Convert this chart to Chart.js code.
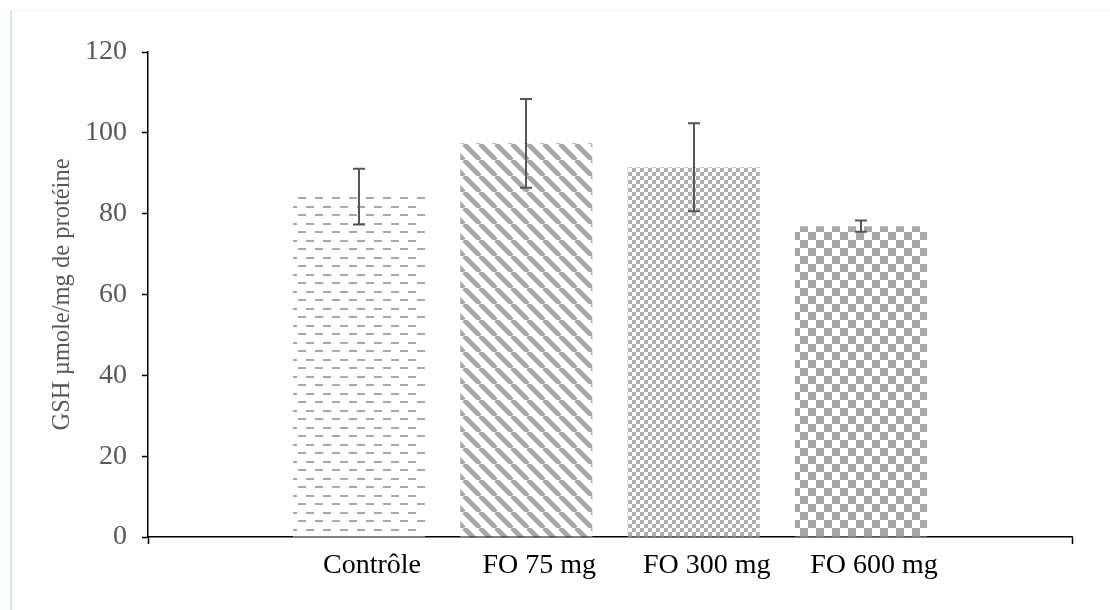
<!DOCTYPE html>
<html>
<head>
<meta charset="utf-8">
<script src="https://cdn.jsdelivr.net/npm/chart.js@4/dist/chart.umd.min.js"></script>
<style>
  html, body { margin: 0; padding: 0; background: #ffffff; overflow: hidden; }
  #wrap { position: relative; width: 1110px; height: 610px; }
  #frame { position: absolute; left: 10px; top: 10px; width: 1200px; height: 700px;
           border-left: 2px solid #d3e3f3; border-top: 1px solid #eef3f8; pointer-events: none; }
</style>
</head>
<body>
<div id="wrap">
  <canvas id="c" width="1110" height="610"></canvas>
  <div id="frame"></div>
</div>
<script>
// ---- data ----
const categories = ['Contrôle', 'FO 75 mg', 'FO 300 mg', 'FO 600 mg'];
const gshMeans = [84.2, 97.4, 91.5, 76.9];
const gshErrors = [6.9, 11.0, 10.9, 1.4];
const yTickValues = [0, 20, 40, 60, 80, 100, 120];
const yAxisTitle = 'GSH µmole/mg de protéine';

// ---- patterns ----
const GRAY = '#a8a8a8';
function makeTile(w, h, draw) {
  const c = document.createElement('canvas');
  c.width = w; c.height = h;
  const g = c.getContext('2d');
  g.fillStyle = '#ffffff';
  g.fillRect(0, 0, w, h);
  draw(g, w, h);
  return c;
}
const ctx = document.getElementById('c').getContext('2d');
const dashTile = makeTile(17, 17, (g) => {
  g.fillStyle = GRAY;
  g.fillRect(0, 2, 8, 2);
  g.fillRect(9, 10, 8, 2);
});
const diagTile = makeTile(16, 16, (g) => {
  g.strokeStyle = GRAY;
  g.lineWidth = 4.8;
  for (const x0 of [-16, 0, 16]) {
    g.beginPath();
    g.moveTo(x0, 0);
    g.lineTo(x0 + 16, 16);
    g.stroke();
  }
});
const smallCheck = makeTile(8, 8, (g) => {
  g.fillStyle = '#b0b0b0';
  g.fillRect(0, 0, 4, 4);
  g.fillRect(4, 4, 4, 4);
});
const bigCheck = makeTile(16, 16, (g) => {
  g.fillStyle = GRAY;
  g.fillRect(0, 0, 8, 8);
  g.fillRect(8, 8, 8, 8);
});
const fills = [dashTile, diagTile, smallCheck, bigCheck].map(t => ctx.createPattern(t, 'repeat'));

// ---- error bars plugin ----
const errorBars = {
  id: 'errorBars',
  afterDatasetsDraw(chart) {
    const meta = chart.getDatasetMeta(0);
    const ys = chart.scales.y;
    const c = chart.ctx;
    c.save();
    c.strokeStyle = '#555555';
    c.lineWidth = 2;
    meta.data.forEach((bar, i) => {
      const x = Math.round(bar.x);
      const yt = ys.getPixelForValue(gshMeans[i] + gshErrors[i]);
      const yb = ys.getPixelForValue(gshMeans[i] - gshErrors[i]);
      c.beginPath();
      c.moveTo(x, yt); c.lineTo(x, yb);
      c.moveTo(x - 6, yt); c.lineTo(x + 6, yt);
      c.moveTo(x - 6, yb); c.lineTo(x + 6, yb);
      c.stroke();
    });
    c.restore();
  }
};

const xMin = -0.261, xMax = 5.261;
const FONT = 'Liberation Serif';

new Chart(ctx, {
  type: 'bar',
  data: {
    datasets: [{
      data: gshMeans.map((v, i) => ({ x: i + 1, y: v })),
      backgroundColor: fills,
      borderWidth: 0,
      categoryPercentage: 1,
      barPercentage: 0.79
    }]
  },
  options: {
    responsive: false,
    animation: false,
    events: [],
    layout: { padding: { top: 52, right: 38, left: 44, bottom: 0 } },
    plugins: { legend: { display: false }, tooltip: { enabled: false } },
    scales: {
      x: {
        type: 'linear',
        min: xMin, max: xMax,
        offset: false,
        afterBuildTicks: (axis) => {
          axis.ticks = [xMin, 1, 2, 3, 4, xMax].map(v => ({ value: v }));
        },
        afterFit: (s) => { s.height = 73; },
        ticks: {
          autoSkip: false, maxRotation: 0, minRotation: 0,
          padding: 5,
          labelOffset: 13,
          color: '#000000',
          font: { family: FONT, size: 28 },
          callback: (v) => (Number.isInteger(v) && v >= 1 && v <= 4) ? categories[v - 1] : ''
        },
        grid: {
          offset: false,
          drawOnChartArea: false,
          drawTicks: true,
          tickLength: 7,
          tickWidth: 1.5,
          tickColor: (c) => (c.tick && Number.isInteger(c.tick.value)) ? 'rgba(0,0,0,0)' : '#000000'
        },
        border: { display: true, color: '#000000', width: 1.5 }
      },
      y: {
        min: 0, max: 120,
        afterBuildTicks: (axis) => { axis.ticks = yTickValues.map(v => ({ value: v })); },
        afterFit: (s) => { s.width = 104; },
        ticks: {
          padding: 15,
          color: '#595959',
          font: { family: FONT, size: 28 }
        },
        grid: {
          drawOnChartArea: false,
          drawTicks: true,
          tickLength: 6,
          tickWidth: 1.5,
          tickColor: '#000000'
        },
        border: { display: true, color: '#000000', width: 1.5 },
        title: {
          display: true,
          text: yAxisTitle,
          color: '#595959',
          font: { family: FONT, size: 24.5 },
          padding: 4
        }
      }
    }
  },
  plugins: [errorBars]
});
</script>
</body>
</html>
